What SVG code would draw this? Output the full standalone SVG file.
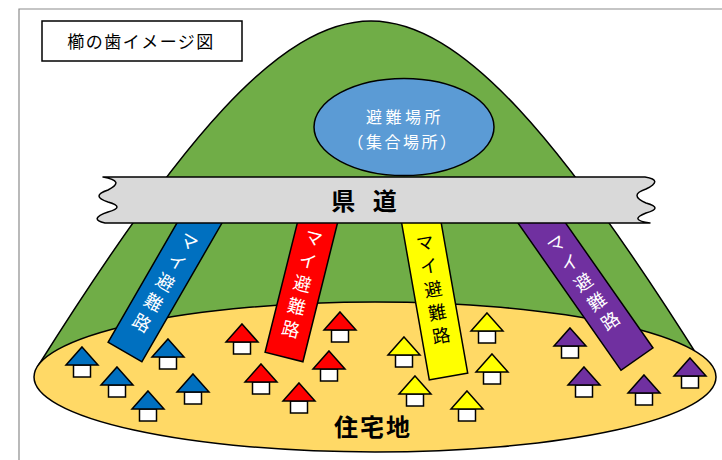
<svg xmlns="http://www.w3.org/2000/svg" width="722" height="460" viewBox="0 0 722 460">
  <defs>
    <style>
      .jp { font-family: "Noto Sans CJK JP", "Noto Sans", sans-serif; }
      .frame { fill: none; stroke: #8c8c8c; stroke-width: 1.2; }
      .edge { stroke: #000; stroke-width: 1.5; }
      .bar-text { font-size: 18px; letter-spacing: 5.5px; writing-mode: vertical-rl; text-anchor: middle; }
      .house-box { fill: #fff; stroke: #000; stroke-width: 1.5; }
    </style>
    <!-- house: roof apex at origin -->
    <g id="house">
      <rect class="house-box" x="-8.5" y="18" width="17" height="12"/>
      <polygon points="0,0 16,18 -16,18" stroke="#000" stroke-width="1.5" stroke-linejoin="miter"/>
    </g>
  </defs>

  <!-- page frame -->
  <polyline class="frame" points="19,460 19,9 722,9"/>

  <!-- title -->
  <g id="title">
    <rect x="42" y="21" width="200" height="40" fill="#fff" stroke="#000" stroke-width="1.5"/>
    <text class="jp" x="141" y="48" font-size="17" letter-spacing="1.5" text-anchor="middle" fill="#000">櫛の歯イメージ図</text>
  </g>

  <!-- mountain -->
  <g id="mountain">
    <path class="edge" fill="#70AD47" d="M38,366 C180,140 280,21 371,21 C462,21 562,140 704,366 Z"/>
  </g>

  <!-- residential area -->
  <g id="residential">
    <ellipse class="edge" cx="375" cy="377" rx="341" ry="75" fill="#FFD966"/>
    <text class="jp" x="373" y="436" font-size="24" font-weight="bold" letter-spacing="2" text-anchor="middle" fill="#000">住宅地</text>
  </g>

  <!-- evacuation shelter -->
  <g id="shelter">
    <ellipse class="edge" cx="404" cy="127" rx="90" ry="48.5" fill="#5B9BD5"/>
    <text class="jp" x="405" y="123" font-size="16" letter-spacing="3.5" text-anchor="middle" fill="#fff">避難場所</text>
    <text class="jp" x="403" y="148" font-size="16" letter-spacing="2.5" text-anchor="middle" fill="#fff">（集合場所）</text>
  </g>

  <!-- evacuation routes -->
  <g id="routes">
    <g id="route-blue" transform="translate(125,352) rotate(30)">
      <rect class="edge" x="-19.5" y="-180" width="39" height="180" fill="#0070C0"/>
      <text class="jp bar-text" x="0" y="-78" fill="#fff">マイ避難路</text>
    </g>
    <g id="route-red" transform="translate(284,357) rotate(14)">
      <rect class="edge" x="-19.5" y="-170" width="39" height="170" fill="#FF0000"/>
      <text class="jp bar-text" x="0" y="-73" fill="#fff">マイ避難路</text>
    </g>
    <g id="route-yellow" transform="translate(448.5,376.5) rotate(-10)">
      <rect class="edge" x="-19.5" y="-180" width="39" height="180" fill="#FFFF00"/>
      <text class="jp bar-text" x="0" y="-86" fill="#000">マイ避難路</text>
    </g>
    <g id="route-purple" transform="translate(637,359) rotate(-35)">
      <rect class="edge" x="-19.5" y="-200" width="39" height="200" fill="#7030A0"/>
      <text class="jp bar-text" x="0" y="-91" fill="#fff">マイ避難路</text>
    </g>
  </g>

  <!-- prefectural road -->
  <g id="road">
    <path class="edge" fill="#D9D9D9" stroke-linejoin="round"
      d="M103,177 L645,177 Q664,180 646,189 Q628,195 646,203 Q664,208 646,213 Q628,220 650,223 L105,223 Q88,219 108,212 Q126,207 108,202 Q90,196 108,190 Q126,181 103,177 Z"/>
    <text class="jp" x="367" y="210" font-size="24" font-weight="bold" letter-spacing="6" text-anchor="middle" fill="#000">県 道</text>
  </g>

  <!-- houses -->
  <g id="houses-blue" fill="#0070C0">
    <use href="#house" x="82" y="347"/>
    <use href="#house" x="168" y="339"/>
    <use href="#house" x="117" y="367"/>
    <use href="#house" x="193" y="374"/>
    <use href="#house" x="148" y="391"/>
  </g>
  <g id="houses-red" fill="#FF0000">
    <use href="#house" x="242" y="324"/>
    <use href="#house" x="340" y="312"/>
    <use href="#house" x="329" y="351"/>
    <use href="#house" x="261" y="364"/>
    <use href="#house" x="299" y="383"/>
  </g>
  <g id="houses-yellow" fill="#FFFF00">
    <use href="#house" x="404" y="337"/>
    <use href="#house" x="487" y="313"/>
    <use href="#house" x="492" y="354"/>
    <use href="#house" x="415" y="376"/>
    <use href="#house" x="467" y="391"/>
  </g>
  <g id="houses-purple" fill="#7030A0">
    <use href="#house" x="570" y="328"/>
    <use href="#house" x="584" y="367"/>
    <use href="#house" x="644" y="375"/>
    <use href="#house" x="690" y="358"/>
  </g>
</svg>
